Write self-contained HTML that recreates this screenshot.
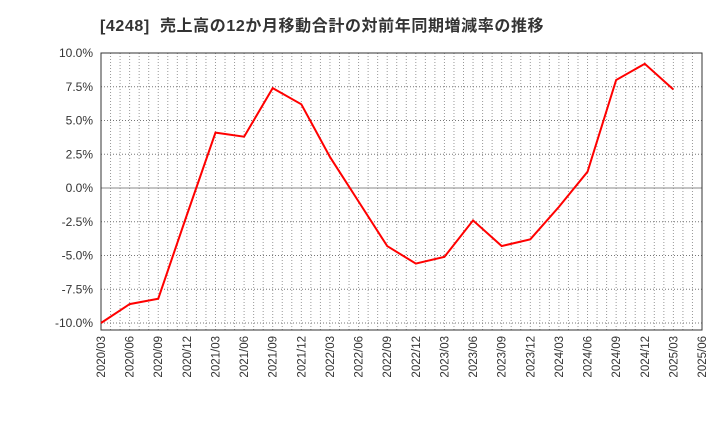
<!DOCTYPE html>
<html><head><meta charset="utf-8"><style>
body{margin:0;background:#fff;font-family:"Liberation Sans","Noto Sans CJK JP",sans-serif}
</style></head><body>
<svg id="c" width="720" height="440" xmlns="http://www.w3.org/2000/svg">
<text x="100" y="31" font-size="16" font-weight="bold" fill="#333" letter-spacing="0.6" xml:space="preserve" style="white-space:pre" font-family="Liberation Sans, Noto Sans CJK JP, sans-serif">[4248]  売上高の12か月移動合計の対前年同期増減率の推移</text>
<g id="grid"></g><g id="axes"></g><g id="series"></g>
</svg>
<script>
const categories=["2020/03","2020/06","2020/09","2020/12","2021/03","2021/06","2021/09","2021/12","2022/03","2022/06","2022/09","2022/12","2023/03","2023/06","2023/09","2023/12","2024/03","2024/06","2024/09","2024/12","2025/03","2025/06"];
const values=[-10.0,-8.6,-8.2,-2.0,4.1,3.8,7.4,6.2,2.3,-1.0,-4.3,-5.6,-5.1,-2.4,-4.3,-3.8,-1.4,1.2,8.0,9.2,7.3];
const yTicks=[10,7.5,5,2.5,0,-2.5,-5,-7.5,-10];
const yTickLabels=["10.0%","7.5%","5.0%","2.5%","0.0%","-2.5%","-5.0%","-7.5%","-10.0%"];
const NS="http://www.w3.org/2000/svg";
const L=101,R=702,T=53,B=330;
const x=i=>L+i*(R-L)/(categories.length-1);
const y=v=>188-v*13.5;
function mk(p,tag,a){const e=document.createElementNS(NS,tag);for(const k in a)e.setAttribute(k,a[k]);document.getElementById(p).appendChild(e);return e;}
for(let m=1;m<(categories.length-1)*3;m++){
 const xx=L+m*(R-L)/((categories.length-1)*3);
 const e=mk("grid","line",{x1:xx,x2:xx,y1:T,y2:B,stroke:"#999","stroke-dasharray":"1,2","stroke-width":1});
 
 
}
yTicks.forEach((v,i)=>{
 const e=mk("grid","line",{x1:L,x2:R,y1:y(v),y2:y(v),stroke:v===0?"#888":"#777","stroke-dasharray":v===0?"":"1,2","stroke-width":1});
 
 
 const t=mk("axes","text",{x:L-8,y:y(v)+4,"text-anchor":"end","font-size":12,fill:"#333"});
 t.textContent=yTickLabels[i];
 
 
});
const fr=mk("axes","rect",{x:L,y:T,width:R-L,height:B-T,fill:"none",stroke:"#333","stroke-width":1});


categories.forEach((c,i)=>{
 const t=mk("axes","text",{x:0,y:0,"text-anchor":"end","font-size":11.5,fill:"#333",transform:`translate(${x(i)+4},${B+6}) rotate(-90)`});
 t.textContent=c;
 
 
});
const ln=mk("series","polyline",{points:values.map((v,i)=>x(i)+","+y(v)).join(" "),fill:"none",stroke:"#f00","stroke-width":2});


</script>
</body></html>
